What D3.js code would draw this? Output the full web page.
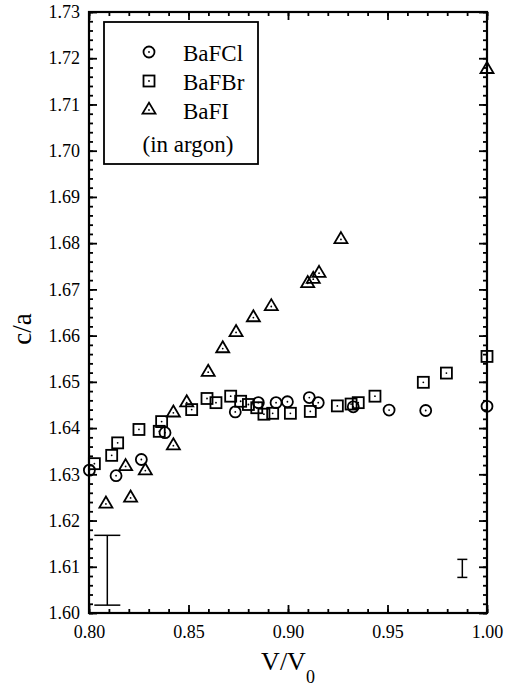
<!DOCTYPE html>
<html>
<head>
<meta charset="utf-8">
<script src="https://d3js.org/d3.v7.min.js"></script>
<style>
  body { margin: 0; background: #fff; }
</style>
</head>
<body>
<svg id="chart" width="513" height="687"></svg>
<script>
// c/a vs V/V0 for BaFX in argon

var bafcl_v = [0.8002, 0.8136, 0.8263, 0.8382, 0.8735, 0.8851, 0.8940, 0.8997, 0.9107, 0.9152, 0.9328, 0.9508, 0.9692, 1.0000];
var bafcl_c = [1.6309, 1.6297, 1.6332, 1.6390, 1.6435, 1.6455, 1.6455, 1.6457, 1.6466, 1.6455, 1.6446, 1.6439, 1.6438, 1.6447];

var bafbr_v = [0.8027, 0.8114, 0.8144, 0.8251, 0.8353, 0.8365, 0.8516, 0.8593, 0.8638, 0.8712, 0.8762, 0.8801, 0.8843, 0.8879, 0.8923, 0.9012, 0.9112, 0.9248, 0.9317, 0.9353, 0.9437, 0.9680, 0.9796, 1.0000];
var bafbr_c = [1.6323, 1.6341, 1.6368, 1.6397, 1.6393, 1.6414, 1.6440, 1.6464, 1.6455, 1.6469, 1.6458, 1.6451, 1.6444, 1.6430, 1.6432, 1.6432, 1.6436, 1.6448, 1.6452, 1.6455, 1.6469, 1.6499, 1.6519, 1.6555];

var bafi_v = [0.8085, 0.8184, 0.8209, 0.8283, 0.8424, 0.8424, 0.8491, 0.8599, 0.8672, 0.8739, 0.8826, 0.8916, 0.9099, 0.9127, 0.9156, 0.9266, 1.0000];
var bafi_c = [1.6236, 1.6317, 1.6249, 1.6308, 1.6362, 1.6433, 1.6455, 1.6521, 1.6572, 1.6607, 1.6639, 1.6663, 1.6713, 1.6722, 1.6735, 1.6808, 1.7176];

// error bars: v, low, high, and cap half width in px
var err_v = [0.8092, 0.9876];
var err_lo = [1.6017, 1.6077];
var err_hi = [1.6168, 1.6116];
var err_cap = [13, 5];

var x_ticks = [0.80, 0.85, 0.90, 0.95, 1.00];
var y_ticks = [1.60, 1.61, 1.62, 1.63, 1.64, 1.65, 1.66, 1.67, 1.68, 1.69, 1.70, 1.71, 1.72, 1.73];

var legend_names = ["BaFCl", "BaFBr", "BaFI"];

var font = "'Liberation Serif', 'Times New Roman', serif";
var width = 513, height = 687;
var margin_l = 89, margin_r = 26, margin_t = 12, margin_b = 74;
var graph_width = width - margin_l - margin_r,
    graph_height = height - margin_t - margin_b;

var svg = d3.select("#chart");
var g = svg.append("g").attr("transform", "translate(" + margin_l + "," + margin_t + ")");

var x = d3.scaleLinear().domain([0.80, 1.00]).range([0, graph_width]);
var y = d3.scaleLinear().domain([1.60, 1.73]).range([graph_height, 0]);

// minor ticks
var x_minor = d3.range(0, 21).map(function(i) { return 0.80 + i * 0.01; });
var y_minor = d3.range(0, 66).map(function(i) { return 1.60 + i * 0.002; });

function styleAxis(sel) {
  sel.select(".domain").remove();
  sel.selectAll("line").attr("stroke", "#000").attr("stroke-width", 1.8);
  sel.selectAll("text").style("font-family", font).style("font-size", "18px").attr("fill", "#000");
}

// bottom
g.append("g").attr("transform", "translate(0," + graph_height + ")")
  .call(d3.axisBottom(x).tickValues(x_minor).tickSize(-4).tickFormat(""))
  .call(styleAxis);
g.append("g").attr("transform", "translate(0," + graph_height + ")")
  .call(d3.axisBottom(x).tickValues(x_ticks).tickSize(-8).tickPadding(12).tickFormat(d3.format(".2f")))
  .call(styleAxis);
// top
g.append("g")
  .call(d3.axisTop(x).tickValues(x_minor).tickSize(-4).tickFormat(""))
  .call(styleAxis);
g.append("g")
  .call(d3.axisTop(x).tickValues(x_ticks).tickSize(-8).tickFormat(""))
  .call(styleAxis);
// left
g.append("g")
  .call(d3.axisLeft(y).tickValues(y_minor).tickSize(-4).tickFormat(""))
  .call(styleAxis);
g.append("g")
  .call(d3.axisLeft(y).tickValues(y_ticks).tickSize(-8).tickPadding(9).tickFormat(d3.format(".2f")))
  .call(styleAxis);
// right
g.append("g").attr("transform", "translate(" + graph_width + ",0)")
  .call(d3.axisRight(y).tickValues(y_minor).tickSize(-4).tickFormat(""))
  .call(styleAxis);
g.append("g").attr("transform", "translate(" + graph_width + ",0)")
  .call(d3.axisRight(y).tickValues(y_ticks).tickSize(-8).tickFormat(""))
  .call(styleAxis);

// frame
g.append("rect")
  .attr("width", graph_width).attr("height", graph_height)
  .attr("fill", "none").attr("stroke", "#000").attr("stroke-width", 2.2);

// markers
function drawCircle(sel, cx, cy) {
  sel.append("circle").attr("cx", cx).attr("cy", cy).attr("r", 5.5)
    .attr("fill", "none").attr("stroke", "#000").attr("stroke-width", 1.8);
  sel.append("circle").attr("cx", cx).attr("cy", cy).attr("r", 0.9).attr("fill", "#000");
}
function drawSquare(sel, cx, cy) {
  sel.append("rect").attr("x", cx - 5.5).attr("y", cy - 5.5).attr("width", 11).attr("height", 11)
    .attr("fill", "none").attr("stroke", "#000").attr("stroke-width", 1.8);
  sel.append("circle").attr("cx", cx).attr("cy", cy).attr("r", 0.9).attr("fill", "#000");
}
function drawTriangle(sel, cx, cy) {
  var h = 11, w = 6.5;
  sel.append("path")
    .attr("d", "M" + cx + "," + (cy - h * 2 / 3) + "L" + (cx + w) + "," + (cy + h / 3) + "L" + (cx - w) + "," + (cy + h / 3) + "Z")
    .attr("fill", "none").attr("stroke", "#000").attr("stroke-width", 1.8).attr("stroke-linejoin", "miter");
  sel.append("circle").attr("cx", cx).attr("cy", cy).attr("r", 0.9).attr("fill", "#000");
}

var marks = g.append("g");
bafcl_v.forEach(function(v, i) { drawCircle(marks, x(v), y(bafcl_c[i])); });
bafbr_v.forEach(function(v, i) { drawSquare(marks, x(v), y(bafbr_c[i])); });
bafi_v.forEach(function(v, i) { drawTriangle(marks, x(v), y(bafi_c[i])); });

// error bars
var eb = g.append("g").attr("stroke", "#000").attr("stroke-width", 1.5);
err_v.forEach(function(v, i) {
  eb.append("line").attr("x1", x(v)).attr("x2", x(v)).attr("y1", y(err_lo[i])).attr("y2", y(err_hi[i]));
  eb.append("line").attr("x1", x(v) - err_cap[i]).attr("x2", x(v) + err_cap[i]).attr("y1", y(err_lo[i])).attr("y2", y(err_lo[i]));
  eb.append("line").attr("x1", x(v) - err_cap[i]).attr("x2", x(v) + err_cap[i]).attr("y1", y(err_hi[i])).attr("y2", y(err_hi[i]));
});

// legend
var lg = svg.append("g");
lg.append("rect").attr("x", 104).attr("y", 22).attr("width", 154).attr("height", 142)
  .attr("fill", "#fff").attr("stroke", "#000").attr("stroke-width", 1.8);
var drawers = [drawCircle, drawSquare, drawTriangle];
legend_names.forEach(function(name, i) {
  var ly = 52 + i * 29;
  drawers[i](lg, 149, ly);
  lg.append("text").attr("x", 183).attr("y", ly + 9)
    .style("font-family", font).style("font-size", "23px").text(name);
});
lg.append("text").attr("x", 188).attr("y", 152).attr("text-anchor", "middle")
  .style("font-family", font).style("font-size", "23px").text("(in argon)");

// axis titles
svg.append("text")
  .attr("transform", "translate(31," + (margin_t + 317) + ") rotate(-90)")
  .attr("text-anchor", "middle")
  .style("font-family", font).style("font-size", "27px")
  .text("c/a");

var xt = svg.append("text")
  .attr("x", margin_l + graph_width / 2)
  .attr("y", 670)
  .attr("text-anchor", "middle")
  .style("font-family", font).style("font-size", "26px");
xt.append("tspan").text("V/V");
xt.append("tspan").attr("dy", 13).style("font-size", "18px").text("0");
</script>
</body>
</html>
